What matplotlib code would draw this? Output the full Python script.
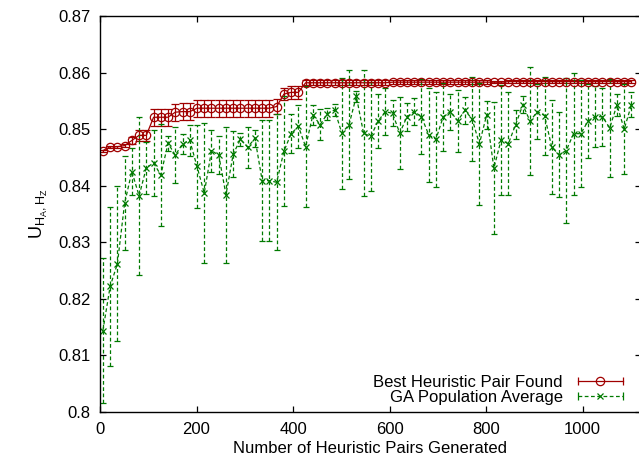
import matplotlib
matplotlib.use("Agg")
import matplotlib.pyplot as plt
import numpy as np
from matplotlib.lines import Line2D
from matplotlib.legend_handler import HandlerLine2D, HandlerTuple

plt.rcParams['font.family'] = ['Liberation Sans', 'DejaVu Sans']
plt.rcParams['mathtext.fontset'] = 'custom'
plt.rcParams['mathtext.rm'] = 'Liberation Sans'
plt.rcParams['mathtext.it'] = 'Liberation Sans'

# number of heuristic pairs generated (one point every 15 pairs)
pairs = np.arange(6, 1102, 15)

# best heuristic pair found so far: mean and error
best = [0.8462, 0.8469, 0.8469, 0.8471, 0.8480, 0.8489, 0.8489, 0.8521, 0.8521, 0.8521,
        0.8530, 0.8531, 0.8531, 0.8537, 0.8537, 0.8537, 0.8537, 0.8537, 0.8537, 0.8537,
        0.8537, 0.8537, 0.8537, 0.8537, 0.8540, 0.8562, 0.8565, 0.8565, 0.8582, 0.8582,
        0.8582, 0.8582, 0.8582, 0.8582, 0.8582, 0.8582, 0.8582, 0.8582, 0.8582, 0.8582,
        0.8583, 0.8583, 0.8583, 0.8583, 0.8583, 0.8583, 0.8583, 0.8583, 0.8583, 0.8583,
        0.8583, 0.8583, 0.8583, 0.8583, 0.8583, 0.8583, 0.8584, 0.8584, 0.8584, 0.8584,
        0.8584, 0.8584, 0.8584, 0.8584, 0.8584, 0.8584, 0.8584, 0.8584, 0.8584, 0.8584,
        0.8584, 0.8584, 0.8584, 0.8584]
best_err = [0.0002, 0.0002, 0.0002, 0.0002, 0.0006, 0.0010, 0.0010, 0.0015, 0.0015, 0.0015,
            0.0015, 0.0015, 0.0015, 0.0015, 0.0015, 0.0015, 0.0015, 0.0015, 0.0015, 0.0015,
            0.0015, 0.0015, 0.0015, 0.0015, 0.0014, 0.0010, 0.0011, 0.0011, 0.0004, 0.0004,
            0.0004, 0.0004, 0.0004, 0.0004, 0.0004, 0.0004, 0.0004, 0.0004, 0.0004, 0.0004,
            0.0004, 0.0004, 0.0004, 0.0004, 0.0004, 0.0004, 0.0004, 0.0004, 0.0004, 0.0004,
            0.0004, 0.0004, 0.0004, 0.0004, 0.0002, 0.0002, 0.0002, 0.0002, 0.0002, 0.0002,
            0.0002, 0.0002, 0.0002, 0.0002, 0.0002, 0.0002, 0.0002, 0.0002, 0.0002, 0.0002,
            0.0002, 0.0002, 0.0002, 0.0002]

# GA population average: mean and error
avg = [0.8144, 0.8222, 0.8262, 0.8369, 0.8425, 0.8382, 0.8432, 0.8440, 0.8419, 0.8475,
       0.8454, 0.8474, 0.8480, 0.8434, 0.8387, 0.8462, 0.8454, 0.8384, 0.8456, 0.8482,
       0.8468, 0.8484, 0.8409, 0.8409, 0.8406, 0.8461, 0.8492, 0.8505, 0.8469, 0.8525,
       0.8508, 0.8527, 0.8534, 0.8493, 0.8508, 0.8558, 0.8493, 0.8487, 0.8514, 0.8531,
       0.8528, 0.8493, 0.8522, 0.8531, 0.8522, 0.8490, 0.8482, 0.8522, 0.8531, 0.8515,
       0.8533, 0.8518, 0.8474, 0.8525, 0.8431, 0.8481, 0.8474, 0.8508, 0.8543, 0.8514,
       0.8531, 0.8524, 0.8468, 0.8455, 0.8462, 0.8492, 0.8492, 0.8514, 0.8522, 0.8522,
       0.8502, 0.8543, 0.8500, 0.8543]
avg_err = [0.0128, 0.0141, 0.0137, 0.0083, 0.0042, 0.0140, 0.0046, 0.0058, 0.0090, 0.0013,
           0.0050, 0.0018, 0.0027, 0.0073, 0.0124, 0.0037, 0.0033, 0.0120, 0.0040, 0.0012,
           0.0036, 0.0015, 0.0107, 0.0107, 0.0120, 0.0097, 0.0034, 0.0038, 0.0107, 0.0018,
           0.0028, 0.0010, 0.0010, 0.0098, 0.0096, 0.0010, 0.0111, 0.0097, 0.0048, 0.0041,
           0.0023, 0.0063, 0.0025, 0.0024, 0.0066, 0.0083, 0.0084, 0.0060, 0.0032, 0.0055,
           0.0024, 0.0075, 0.0108, 0.0025, 0.0117, 0.0097, 0.0091, 0.0025, 0.0015, 0.0095,
           0.0049, 0.0069, 0.0083, 0.0075, 0.0128, 0.0108, 0.0094, 0.0065, 0.0054, 0.0051,
           0.0086, 0.0020, 0.0079, 0.0022]

red = '#a00000'
green = '#007a00'
dash = (0, (3, 2))

fig = plt.figure(figsize=(6.39, 4.61), dpi=100)
ax = fig.add_axes([100 / 639, 49 / 461, 540.6 / 639, 396 / 461])

ax.errorbar(pairs, best, yerr=best_err, color=red, marker='o', markersize=6,
            markerfacecolor='none', markeredgewidth=0.9, linewidth=0.9,
            elinewidth=0.9, capsize=3, capthick=0.9)
eb = ax.errorbar(pairs, avg, yerr=avg_err, color=green, marker='x', markersize=5,
                 markeredgewidth=0.9, linewidth=0.9, linestyle=dash,
                 elinewidth=0.9, capsize=2, capthick=0.9)
eb[2][0].set_linestyle(dash)

ax.set_xlim(0, 1120)
ax.set_ylim(0.80, 0.87)
ax.set_xticks([0, 200, 400, 600, 800, 1000])
yt = [0.80, 0.81, 0.82, 0.83, 0.84, 0.85, 0.86, 0.87]
ax.set_yticks(yt)
ax.set_yticklabels(['0.8', '0.81', '0.82', '0.83', '0.84', '0.85', '0.86', '0.87'])
ax.tick_params(direction='in', length=4, width=0.9, top=True, right=True,
               labelsize=12, pad=7, color='black')
for s in ax.spines.values():
    s.set_linewidth(1.0)

ax.set_xlabel('Number of Heuristic Pairs Generated', fontsize=12, labelpad=3)
ax.set_ylabel(r'$\mathrm{U}_{\mathrm{H}_\mathrm{A},\mathrm{H}_\mathrm{Z}}$', fontsize=13, labelpad=6)

# gnuplot-like legend keys: horizontal line with end caps and a marker in the middle
cap_r = Line2D([], [], color=red, linewidth=0.9, marker='|', markersize=6, markeredgewidth=0.9)
mk_r = Line2D([], [], color=red, linestyle='none', marker='o', markersize=6,
              markerfacecolor='none', markeredgewidth=0.9)
cap_g = Line2D([], [], color=green, linewidth=0.9, linestyle=dash, marker='|',
               markersize=6, markeredgewidth=0.9)
mk_g = Line2D([], [], color=green, linestyle='none', marker='x', markersize=5,
              markeredgewidth=0.9)
hmap = {cap_r: HandlerLine2D(numpoints=2), cap_g: HandlerLine2D(numpoints=2),
        mk_r: HandlerLine2D(numpoints=1), mk_g: HandlerLine2D(numpoints=1),
        tuple: HandlerTuple(ndivide=1)}
ax.legend([(cap_r, mk_r), (cap_g, mk_g)],
          ['Best Heuristic Pair Found', 'GA Population Average'],
          handler_map=hmap, loc='lower right', bbox_to_anchor=(0.99, 0.0),
          frameon=False, markerfirst=False, fontsize=12, handlelength=3.3,
          handletextpad=0.6, labelspacing=0.0, borderaxespad=0.05)

fig.savefig('out.png', dpi=100)
